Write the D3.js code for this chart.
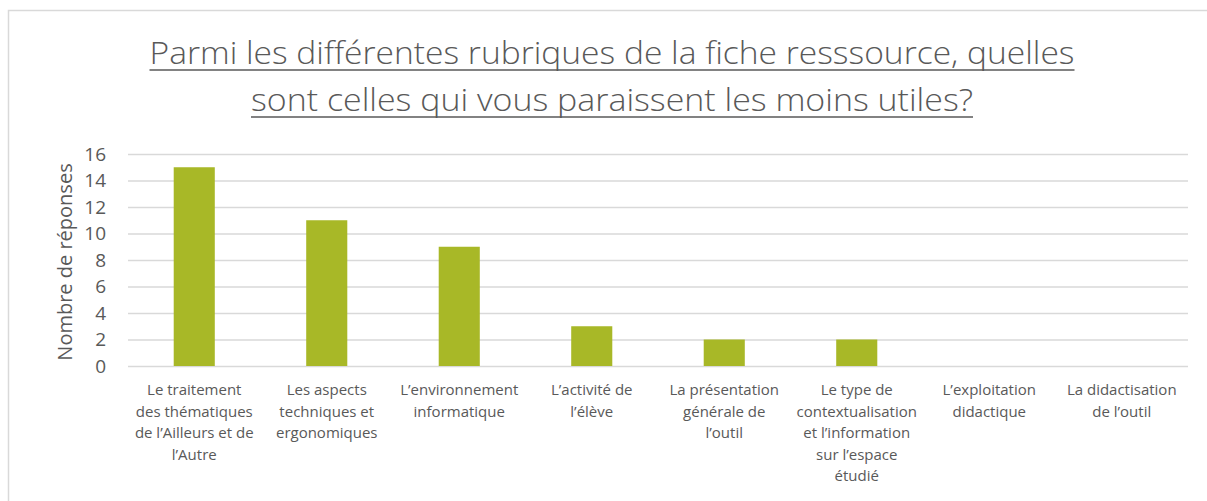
<!DOCTYPE html>
<html>
<head>
<meta charset="utf-8">
<script src="https://cdn.jsdelivr.net/npm/d3@7"></script>
<style>
  body { margin: 0; background: #fff; }
  text { font-family: "Open Sans", "Noto Sans", sans-serif; fill: #595959; }
</style>
</head>
<body>
<div id="container"></div>
<script>
(function(){

  // data
  var categories = [
    "Le traitement|des thématiques|de l’Ailleurs et de|l’Autre",
    "Les aspects|techniques et|ergonomiques",
    "L’environnement|informatique",
    "L’activité de|l’élève",
    "La présentation|générale de|l’outil",
    "Le type de|contextualisation|et l’information|sur l’espace|étudié",
    "L’exploitation|didactique",
    "La didactisation|de l’outil"
  ]
  var values = [15, 11, 9, 3, 2, 2, 0, 0]
  var yTicks = [0, 2, 4, 6, 8, 10, 12, 14, 16]
  var titleLines = [
    "Parmi les différentes rubriques de la fiche resssource, quelles",
    "sont celles qui vous paraissent les moins utiles?"
  ]
  var titleWidths = [925, 722]
  var yTitle = "Nombre de réponses"

  var width = 1207, height = 501
  var margin = { top: 154, right: 19, bottom: 135, left: 128 }

  var svg = d3.select("#container")
    .append("svg")
      .attr("width", width)
      .attr("height", height)

  // chart frame (only top and left edges fall inside the picture)
  svg.append("rect")
    .attr("x", 8.5).attr("y", 10.5)
    .attr("width", 1210).attr("height", 510)
    .attr("fill", "none")
    .attr("stroke", "#d9d9d9")
    .attr("stroke-width", 1.5)

  // title, underlined
  var title = svg.append("g")
  titleLines.forEach(function(t, i){
    var txt = title.append("text")
      .attr("x", 612)
      .attr("y", 64 + i * 47)
      .attr("text-anchor", "middle")
      .attr("textLength", titleWidths[i])
      .attr("lengthAdjust", "spacingAndGlyphs")
      .style("font-size", "32px")
      .style("font-weight", 300)
      .text(t)
    title.append("line")
      .attr("x1", 612 - titleWidths[i] / 2).attr("x2", 612 + titleWidths[i] / 2)
      .attr("y1", 70 + i * 47).attr("y2", 70 + i * 47)
      .attr("stroke", "#595959")
      .attr("stroke-width", 1.6)
  })

  var plot = svg.append("g")
    .attr("transform", "translate(" + margin.left + "," + margin.top + ")")
  var w = width - margin.left - margin.right

  var x = d3.scaleBand()
    .domain(categories)
    .range([0, w])
    .paddingInner(0.69)
    .paddingOuter(0.345)

  var y = d3.scaleLinear()
    .domain([0, 16])
    .range([212, 0])

  // gridlines
  plot.append("g")
    .call(d3.axisLeft(y).tickValues(yTicks).tickSize(-w).tickFormat(""))
    .call(function(g){ g.select(".domain").remove() })
    .selectAll("line")
      .attr("stroke", "#d9d9d9")
      .attr("stroke-width", 1.3)

  // y tick labels
  plot.append("g")
    .call(d3.axisLeft(y).tickValues(yTicks).tickSize(0).tickPadding(22))
    .call(function(g){ g.select(".domain").remove() })
    .selectAll("text")
      .style("font-size", "19px")
      .style("font-family", "\"Open Sans\", sans-serif")
      .attr("fill", "#595959")

  // bars
  plot.selectAll(".bar")
    .data(values)
    .enter().append("rect")
      .attr("class", "bar")
      .attr("x", function(d, i){ return x(categories[i]) })
      .attr("width", x.bandwidth())
      .attr("y", function(d){ return y(d) })
      .attr("height", function(d){ return y(0) - y(d) })
      .attr("fill", "#a8b827")

  // category labels
  categories.forEach(function(c){
    var lines = c.split("|")
    var t = plot.append("text")
      .attr("x", x(c) + x.bandwidth() / 2)
      .attr("y", y(0) + 29)
      .attr("text-anchor", "middle")
      .style("font-size", "15px")
    lines.forEach(function(l, i){
      t.append("tspan")
        .attr("x", x(c) + x.bandwidth() / 2)
        .attr("dy", i === 0 ? 0 : 21.5)
        .text(l)
    })
  })

  // y axis title
  svg.append("text")
    .attr("transform", "translate(72," + (margin.top + 108) + ") rotate(-90)")
    .attr("text-anchor", "middle")
    .style("font-size", "20px")
    .text(yTitle)

})()
</script>
</body>
</html>
